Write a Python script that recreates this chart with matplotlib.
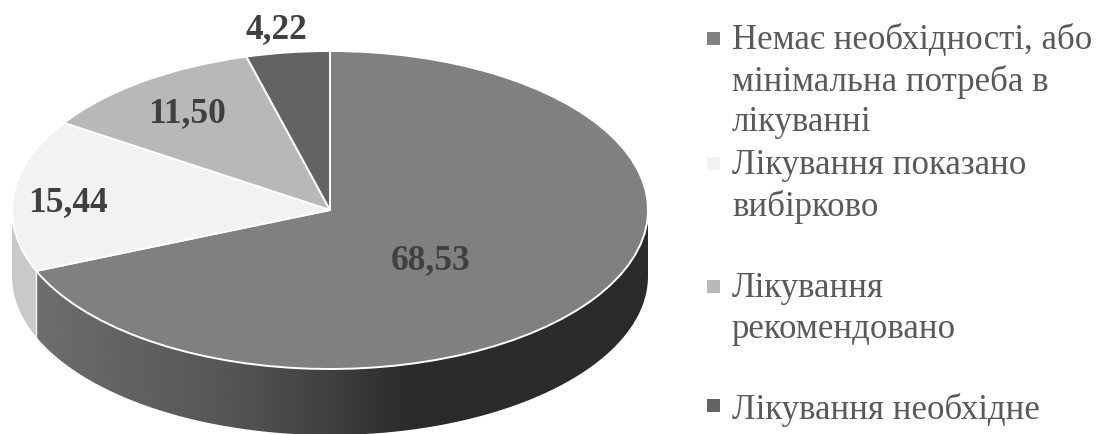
import numpy as np
import matplotlib
matplotlib.use("Agg")
import matplotlib.pyplot as plt
from matplotlib.patches import Rectangle, Polygon

plt.rcParams["font.family"] = ["Liberation Serif", "DejaVu Serif"]

categories = [
    "Немає необхідності, або\nмінімальна потреба в\nлікуванні",
    "Лікування показано\nвибірково",
    "Лікування\nрекомендовано",
    "Лікування необхідне",
]
values = [68.53, 15.44, 11.50, 4.22]
value_labels = ["68,53", "15,44", "11,50", "4,22"]
face_colors = ["#808080", "#f2f2f2", "#b8b8b8", "#636363"]
light_wall = "#c9c9c9"

W, H = 1104, 434
CX, CY, RX, RY, DEPTH = 330, 210, 318, 159, 66

fig = plt.figure(figsize=(W / 100, H / 100), dpi=100, facecolor="white")

# Pie axes: one data unit is the pie radius, squashed to a flat ellipse.
ax = fig.add_axes([0, 0, 1, 1])
depth = DEPTH / RY

def rim(theta):
    """Rim point for a clockwise angle in degrees measured from twelve o'clock."""
    t = np.radians(theta)
    return np.sin(t), np.cos(t)

def wall_band(start, stop):
    """Outline of the side wall between two rim angles."""
    x, y = rim(np.linspace(start, stop, 200))
    return np.r_[np.c_[x, y], np.c_[x[::-1], y[::-1] - depth]]

edges = 360 * np.cumsum(values) / np.sum(values)

# Side wall of the largest slice: a horizontal grey ramp clipped to the band.
ramp_x = np.linspace(-1, 1, 512)
ramp = np.interp(ramp_x, [-0.92, -0.55, -0.3, 0.03, 0.25, 1.0],
                 [0.43, 0.37, 0.33, 0.24, 0.17, 0.17])
img = ax.imshow(ramp[None, :], cmap="gray", vmin=0, vmax=1, aspect="auto",
                extent=(-1, 1, -1 - depth, 1), interpolation="bilinear", zorder=1)
main_wall = Polygon(wall_band(90, edges[0]), closed=True, facecolor="none",
                    edgecolor="none", transform=ax.transData)
ax.add_patch(main_wall)
img.set_clip_path(main_wall)

# Side wall of the second slice, visible up to the left extreme of the ellipse.
ax.add_patch(Polygon(wall_band(edges[0], 270), closed=True, facecolor=light_wall,
                     edgecolor="none", zorder=1))

# Seam between the two visible walls.
sx, sy = rim(edges[0])
ax.plot([sx, sx], [sy, sy - depth], color="#f4f4f4", lw=1.0, zorder=2)

wedges, _ = ax.pie(values, colors=face_colors, startangle=90, counterclock=False,
                   radius=1, center=(0, 0), frame=False,
                   wedgeprops=dict(edgecolor="white", linewidth=1.4, zorder=3))

ax.set_aspect("auto")
ax.set_xlim(-CX / RX, (W - CX) / RX)
ax.set_ylim((CY - H) / RY, CY / RY)
ax.axis("off")

# Overlay axes in pixel units for the labels and the key.
ov = fig.add_axes([0, 0, 1, 1], facecolor="none")
ov.set_xlim(0, W)
ov.set_ylim(H, 0)
ov.axis("off")

label_xy = [(431, 261), (68, 203), (187, 114), (276, 30)]
for text, (x, y) in zip(value_labels, label_xy):
    ov.text(x, y, text, ha="center", va="center", fontsize=25.5,
            fontweight="bold", color="#404040")

key_y = [38, 163, 286, 405]
key_text_y = [24, 149, 272, 393]
for y, ty, name, color in zip(key_y, key_text_y, categories, face_colors):
    ov.add_patch(Rectangle((707, y - 6), 13, 13, facecolor=color, edgecolor="none"))
    ov.text(732, ty, name, ha="left", va="top", fontsize=25.1,
            color="#595959", linespacing=1.3)

fig.savefig("out.png", dpi=100, facecolor="white")
